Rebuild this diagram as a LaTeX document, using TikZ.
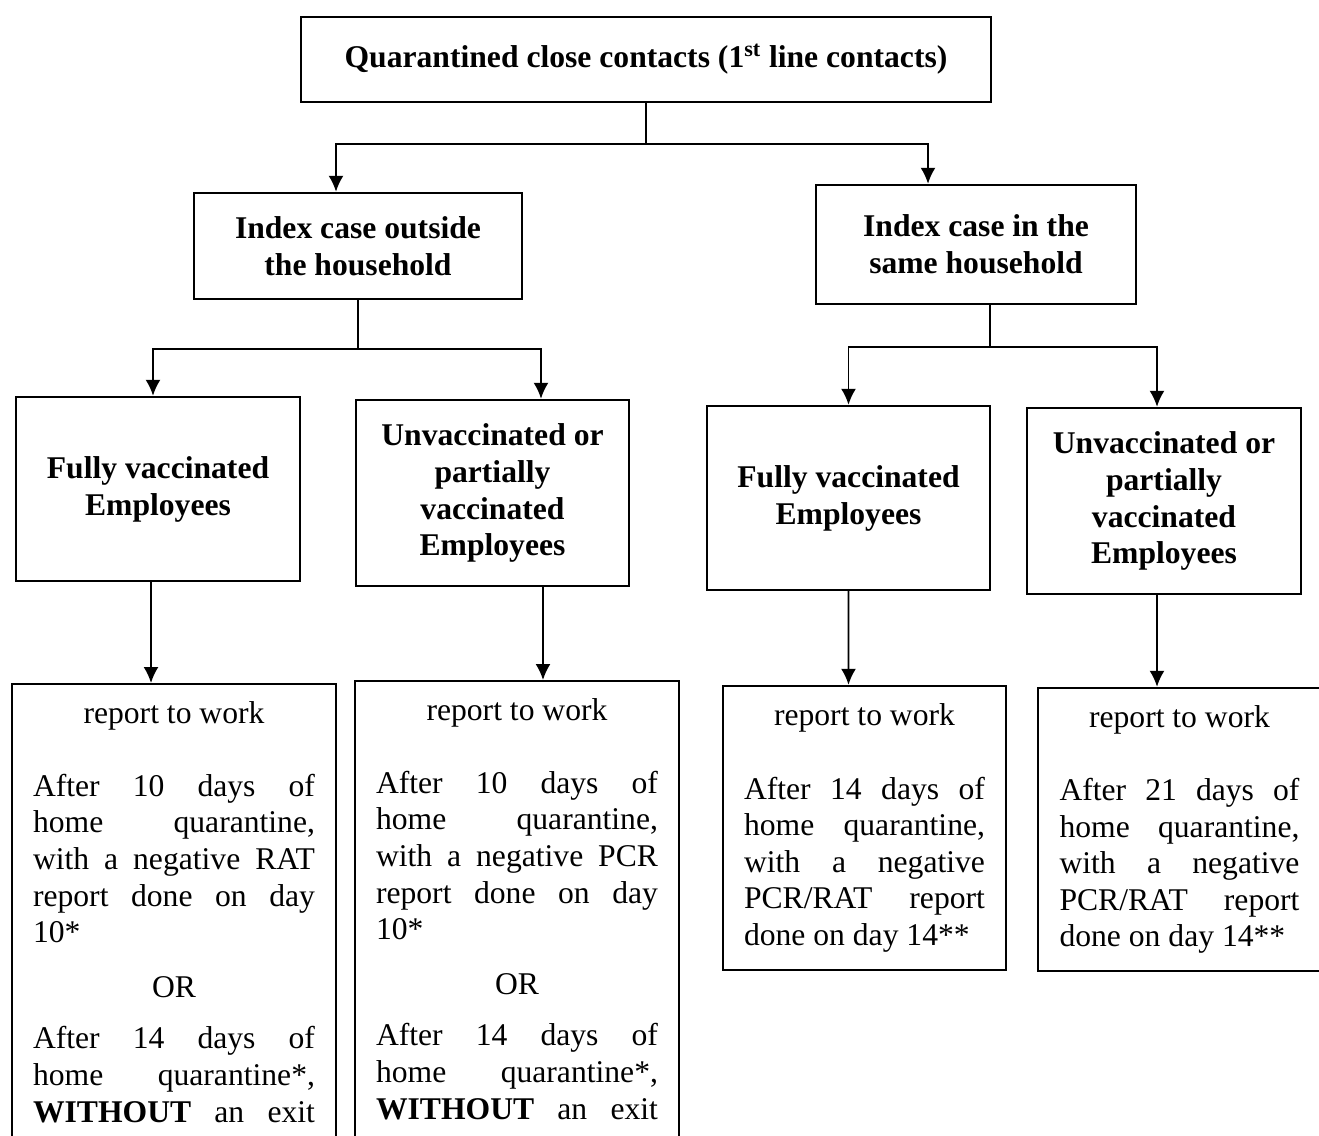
\documentclass[tikz,border=0pt]{standalone}
\usepackage{fontspec}
\setmainfont{Liberation Serif}
\usetikzlibrary{arrows.meta}
\tolerance=10000
\hbadness=10000

\newcommand{\midline}[1]{{\centering #1\par}}

\tikzset{
 catbox/.style={draw,line width=1.4pt,align=center,font=\bfseries\fontsize{18}{21}\selectfont},
 resultbox/.style={draw,line width=1.4pt,align=justify,inner xsep=0.42cm,font=\fontsize{18}{20.8}\selectfont},
 link/.style={line width=1.1pt},
 arr/.style={link,-{Latex[length=0.32cm,width=0.3cm]}}
}

\begin{document}
\begin{tikzpicture}[x=0.02cm,y=-0.02cm]
 \useasboundingbox (0,0) rectangle (1319,1136);
 \clip (0,0) rectangle (1319,1136);
 % first row
 \node[catbox,minimum width=13.8cm,minimum height=1.7cm] (top) at (646,59.5) {Quarantined close contacts (1\textsuperscript{st} line contacts)};
 % second row
 \node[catbox,minimum width=6.56cm,minimum height=2.12cm] (outside) at (358,246) {Index case outside\\the household};
 \node[catbox,minimum width=6.4cm,minimum height=2.38cm] (inside) at (976,244.5) {Index case in the\\same household};
 % third row
 \node[catbox,minimum width=5.68cm,minimum height=3.68cm] (outfull) at (158,489) {Fully vaccinated\\Employees};
 \node[catbox,minimum width=5.46cm,minimum height=3.72cm] (outpart) at (492.5,493) {Unvaccinated or\\partially\\vaccinated\\Employees};
 \node[catbox,minimum width=5.66cm,minimum height=3.68cm] (infull) at (848.5,498) {Fully vaccinated\\Employees};
 \node[catbox,minimum width=5.48cm,minimum height=3.72cm] (inpart) at (1164,501) {Unvaccinated or\\partially\\vaccinated\\Employees};
 % results
 \node[resultbox,text width=5.64cm,anchor=north,inner ysep=0.34cm] (outfullres) at (174,683) {\midline{report to work}\vspace{20.9pt}After 10 days of\linebreak home quarantine,\linebreak with a negative RAT\linebreak report done on day\linebreak 10*\par\vspace{10.2pt}\midline{OR}\vspace{8.7pt}After 14 days of\linebreak home quarantine*,\linebreak \textbf{WITHOUT} an exit\linebreak\par\vspace{3cm}\hbox{}};
 \node[resultbox,text width=5.64cm,anchor=north,inner ysep=0.34cm] (outpartres) at (517,680) {\midline{report to work}\vspace{20.9pt}After 10 days of\linebreak home quarantine,\linebreak with a negative PCR\linebreak report done on day\linebreak 10*\par\vspace{10.2pt}\midline{OR}\vspace{8.7pt}After 14 days of\linebreak home quarantine*,\linebreak \textbf{WITHOUT} an exit\linebreak\par\vspace{3cm}\hbox{}};
 \node[resultbox,text width=4.82cm,minimum width=5.66cm,minimum height=5.68cm] (infullres) at (864.5,828) {\midline{report to work}\vspace{20.9pt}After 14 days of\linebreak home quarantine,\linebreak with a negative\linebreak PCR/RAT report\linebreak done on day 14**};
 \node[resultbox,text width=4.8cm,inner xsep=0.43cm,minimum width=5.66cm,minimum height=5.66cm] (inpartres) at (1179.5,829.5) {\midline{report to work}\vspace{20.9pt}After 21 days of\linebreak home quarantine,\linebreak with a negative\linebreak PCR/RAT report\linebreak done on day 14**};
 % connectors
 \draw[link] (top.south) -- ++(0,41) coordinate (topsplit);
 \draw[arr] (topsplit) -| ([xshift=-0.44cm]outside.north);
 \draw[arr] (topsplit) -| ([xshift=-0.96cm]inside.north);
 \draw[link] (outside.south) -- ++(0,49) coordinate (outsplit);
 \draw[arr] (outsplit) -| ([xshift=-0.1cm]outfull.north);
 \draw[arr] (outsplit) -| ([xshift=0.97cm]outpart.north);
 \draw[link] ([xshift=0.28cm]inside.south) -- ++(0,42) coordinate (insplit);
 \draw[arr] (insplit) -| (infull.north);
 \draw[arr] (insplit) -| ([xshift=-0.14cm]inpart.north);
 \draw[arr] ([xshift=-0.14cm]outfull.south) -- ([xshift=-0.46cm]outfullres.north);
 \draw[arr] ([xshift=1.01cm]outpart.south) -- ([xshift=0.52cm]outpartres.north);
 \draw[arr] (infull.south) -- ([xshift=-0.32cm]infullres.north);
 \draw[arr] ([xshift=-0.14cm]inpart.south) -- ([xshift=-0.45cm]inpartres.north);
\end{tikzpicture}
\end{document}
